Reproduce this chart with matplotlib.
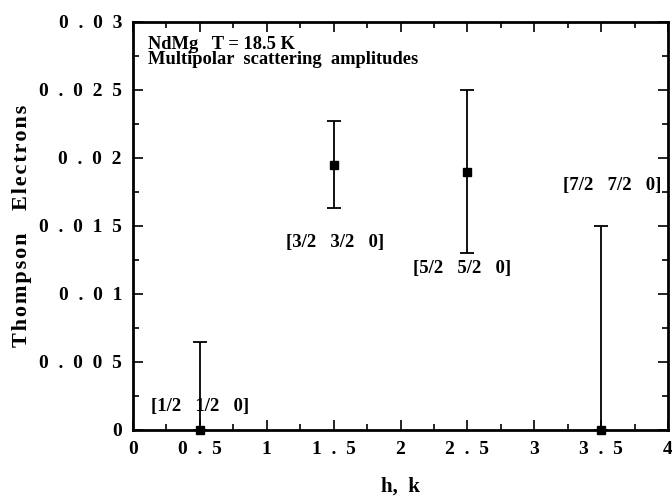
import numpy as np
import matplotlib
matplotlib.use("Agg")
import matplotlib.pyplot as plt
from matplotlib.ticker import MultipleLocator

plt.rcParams['font.family'] = ['Liberation Serif', 'DejaVu Serif']
plt.rcParams['font.weight'] = 'bold'

# data
hk = [0.5, 1.5, 2.5, 3.5]
amp = [0.0, 0.0195, 0.019, 0.0]
err_lo = [0.0, 0.0032, 0.006, 0.0]
err_hi = [0.0065, 0.0032, 0.006, 0.015]
labels = ["[1/2 1/2 0]", "[3/2 3/2 0]", "[5/2 5/2 0]", "[7/2 7/2 0]"]
label_x = [0.5, 1.51, 2.46, 3.58]
label_y = [0.0017, 0.01375, 0.0119, 0.018]
xticks = [0, 0.5, 1, 1.5, 2, 2.5, 3, 3.5, 4]
xtick_labels = ["0", "0.5", "1", "1.5", "2", "2.5", "3", "3.5", "4"]
yticks = [0, 0.005, 0.01, 0.015, 0.02, 0.025, 0.03]
ytick_labels = ["0", "0.005", "0.01", "0.015", "0.02", "0.025", "0.03"]


def spread(s, gap):
    # widen letter spacing like the scanned original
    return gap.join(s)


fig = plt.figure(figsize=(6.72, 5.0), dpi=100)
ax = fig.add_axes([0.198, 0.14, 0.796, 0.816])

ax.errorbar(hk, amp, yerr=[err_lo, err_hi], fmt="s", color="black",
            markersize=5.5, capsize=5, elinewidth=1.3, capthick=1.3, clip_on=False, zorder=3)

for lx, ly, t in zip(label_x, label_y, labels):
    ax.text(lx, ly, t.replace(" ", "   "), ha="center", va="center",
            fontsize=13.5, fontweight="bold")

ax.text(0.11, 0.0290, "NdMg   T = 18.5 K\nMultipolar  scattering  amplitudes",
        ha="left", va="top", fontsize=13.3, fontweight="bold", linespacing=0.85)

ax.set_xlim(0, 4)
ax.set_ylim(0, 0.03)
ax.xaxis.set_minor_locator(MultipleLocator(0.25))
ax.yaxis.set_minor_locator(MultipleLocator(0.0025))
ax.set_xticks(xticks)
ax.set_xticklabels([spread(t, "\u2002") for t in xtick_labels])
ax.set_yticks(yticks)
ax.set_yticklabels([spread(t, "\u2002") for t in ytick_labels])
ax.tick_params(which="both", direction="in", top=True, right=True, labelsize=14, width=1.2)
ax.tick_params(which="major", length=7, pad=8)
ax.tick_params(which="minor", length=4)
for s in ax.spines.values():
    s.set_linewidth(2)

ax.set_xlabel("h,  k", fontsize=15, fontweight="bold")
ax.set_ylabel(spread("Thompson", "\u200a") + "    " + spread("Electrons", "\u200a"),
              fontsize=16, fontweight="bold")
ax.xaxis.set_label_coords(0.5, -0.115)
ax.yaxis.set_label_coords(-0.189, 0.5)

plt.savefig("out.png", dpi=100)
